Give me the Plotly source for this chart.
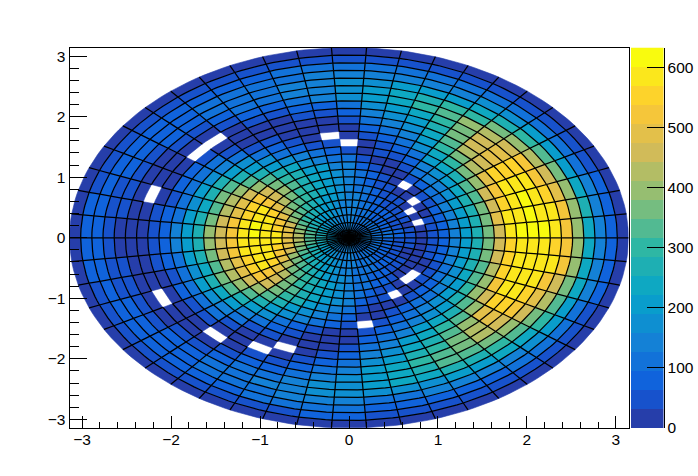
import math
import plotly.graph_objects as go

# Estimated bin contents: one list per azimuth bin (7.2 degrees wide), 25 radial bins from the centre out
phi00 = [150,130,115,95,65,35,25,40,80,150,215,270,350,470,570,630,640,620,570,520,400,250,150,70,25]
phi01 = [145,130,110,95,65,35,25,45,85,150,210,280,370,480,570,590,610,600,575,530,400,260,145,70,22]
phi02 = [145,128,110,90,60,30,0,42,80,145,205,275,365,470,555,580,605,590,560,500,380,250,130,65,22]
phi03 = [140,125,105,85,58,32,18,30,70,140,195,265,345,445,525,575,590,575,535,460,350,215,120,60,22]
phi04 = [138,122,102,85,60,35,0,25,60,120,180,245,320,405,490,540,555,550,520,440,320,200,115,55,20]
phi05 = [135,120,105,85,65,42,22,0,45,100,155,210,275,355,425,470,500,490,470,385,290,205,115,50,20]
phi06 = [132,120,105,90,70,50,32,16,30,75,130,180,235,300,365,415,445,450,425,350,265,175,105,48,18]
phi07 = [130,120,108,92,78,60,42,25,0,50,105,150,195,250,295,335,360,370,385,315,240,160,100,45,18]
phi08 = [130,122,112,100,88,75,58,40,25,15,45,80,120,160,195,230,270,310,320,285,215,150,100,45,18]
phi09 = [130,125,118,110,100,90,78,60,42,25,22,45,75,105,140,175,210,250,285,265,210,145,100,45,18]
phi10 = [130,126,122,118,112,108,98,85,65,40,20,35,60,85,115,150,180,215,240,240,195,140,100,50,16]
phi11 = [128,128,128,128,128,128,125,118,105,78,45,20,30,55,85,115,150,185,210,205,180,135,95,55,16]
phi12 = [130,130,135,140,145,150,155,155,150,130,100,55,0,12,22,45,70,110,160,170,165,135,95,60,20]
phi13 = [132,135,142,150,158,165,170,172,165,150,115,70,35,0,15,30,55,90,135,155,155,130,95,60,20]
phi14 = [135,140,150,162,175,190,200,210,210,190,150,105,60,30,15,18,40,70,110,135,140,125,95,58,20]
phi15 = [138,145,158,175,195,210,230,240,240,220,185,135,85,45,20,12,25,50,85,115,125,120,90,55,18]
phi16 = [140,150,168,190,215,240,260,275,280,265,225,175,120,70,35,15,15,35,65,95,110,105,90,55,18]
phi17 = [145,155,178,205,235,265,295,315,325,310,270,220,165,110,60,30,15,20,45,75,95,95,85,52,18]
phi18 = [145,160,188,220,255,290,330,360,380,370,330,280,220,160,100,60,30,0,28,55,80,90,80,50,16]
phi19 = [150,165,198,235,280,320,375,420,450,470,410,345,280,215,150,95,50,0,18,40,65,80,75,48,16]
phi20 = [150,175,210,255,310,365,430,490,530,520,470,405,330,255,185,120,65,30,15,25,50,70,72,46,16]
phi21 = [155,185,225,280,340,410,490,545,570,560,500,435,365,270,195,125,70,30,15,20,40,65,72,48,16]
phi22 = [155,195,245,305,370,450,530,575,590,555,490,420,330,240,170,110,62,30,0,22,35,58,72,60,20]
phi23 = [160,210,265,335,410,490,565,590,615,575,520,450,370,265,190,125,75,35,22,22,32,55,72,65,25]
phi24 = [160,210,270,340,420,500,570,595,630,580,530,470,390,270,200,130,80,35,22,22,30,55,70,70,25]
phi25 = [160,210,270,340,420,500,570,590,600,580,530,470,390,270,200,130,80,35,22,22,30,55,70,70,25]
phi26 = [160,210,265,335,410,490,565,580,595,575,520,450,370,265,190,125,75,32,20,22,32,55,72,65,25]
phi27 = [155,195,245,305,370,450,530,575,590,555,490,420,330,240,170,110,62,28,16,22,35,58,72,62,22]
phi28 = [155,185,225,280,340,410,490,545,570,555,500,430,360,265,190,122,68,28,0,20,40,65,72,48,16]
phi29 = [150,175,210,255,310,365,430,490,525,520,465,400,325,250,180,118,62,30,15,25,50,70,72,46,16]
phi30 = [150,165,198,235,280,320,375,420,450,450,405,340,275,210,148,95,50,25,15,38,65,80,75,48,16]
phi31 = [145,160,188,220,255,290,330,360,375,365,325,275,215,155,100,60,30,0,28,55,80,90,90,50,16]
phi32 = [145,155,178,205,235,265,295,315,320,305,265,215,160,108,60,30,14,20,45,75,95,95,85,52,18]
phi33 = [140,150,168,190,215,240,260,275,280,260,220,170,118,70,35,15,0,32,65,95,112,108,90,55,18]
phi34 = [138,145,158,175,195,210,230,240,238,215,180,130,82,45,20,0,28,52,88,118,130,120,95,58,18]
phi35 = [135,140,150,160,175,188,198,208,205,185,148,100,58,28,14,28,50,80,115,140,145,130,100,62,20]
phi36 = [130,132,138,148,155,162,168,170,160,145,110,65,30,12,25,50,78,110,140,160,160,135,100,65,20]
phi37 = [130,130,135,138,142,148,150,148,135,115,75,35,15,30,55,70,100,130,160,170,165,135,100,65,20]
phi38 = [128,128,128,128,126,122,115,105,82,55,30,0,50,85,115,150,180,205,220,205,165,125,85,48,16]
phi39 = [130,128,125,120,115,108,95,80,58,30,20,50,85,120,150,185,215,245,250,225,175,125,85,45,16]
phi40 = [130,126,120,114,105,92,78,60,38,18,45,80,115,155,190,225,255,285,280,240,185,130,85,42,16]
phi41 = [130,124,115,108,95,80,65,40,0,30,70,110,150,195,235,275,310,325,320,255,195,135,85,42,18]
phi42 = [132,122,110,98,85,68,48,28,15,50,95,135,185,235,285,335,370,370,330,270,205,145,90,45,18]
phi43 = [135,122,108,92,75,55,30,0,28,72,120,165,220,280,345,410,440,415,360,295,225,155,95,45,18]
phi44 = [138,120,105,88,65,42,22,0,40,90,145,195,255,330,410,480,495,450,395,330,250,170,105,48,18]
phi45 = [140,120,102,85,58,32,20,22,50,108,165,220,290,380,460,550,540,510,450,375,285,190,110,52,20]
phi46 = [142,122,105,85,55,28,18,30,62,125,185,245,320,410,510,590,570,545,500,420,320,205,120,60,20]
phi47 = [145,125,108,88,58,30,18,35,72,140,200,260,340,440,540,575,595,575,530,460,350,225,130,65,22]
phi48 = [148,128,110,90,60,32,22,40,78,148,210,270,350,455,560,570,585,595,590,530,410,245,145,68,22]
phi49 = [150,130,112,92,62,35,22,38,78,150,215,275,350,465,565,580,595,580,565,510,400,250,150,72,25]

values = [phi00,phi01,phi02,phi03,phi04,phi05,phi06,phi07,phi08,phi09,
          phi10,phi11,phi12,phi13,phi14,phi15,phi16,phi17,phi18,phi19,
          phi20,phi21,phi22,phi23,phi24,phi25,phi26,phi27,phi28,phi29,
          phi30,phi31,phi32,phi33,phi34,phi35,phi36,phi37,phi38,phi39,
          phi40,phi41,phi42,phi43,phi44,phi45,phi46,phi47,phi48,phi49]

z_top = 633.0
n_levels = 20
x_ticks = [-3, -2, -1, 0, 1, 2, 3]
y_ticks = [-3, -2, -1, 0, 1, 2, 3]
z_ticks = [0, 100, 200, 300, 400, 500, 600]

bird_stops = [0.0, .125, .25, .375, .5, .625, .75, .875, 1.0]
bird_r = [.2082, .0592, .0780, .0232, .1802, .5301, .8186, .9956, .9764]
bird_g = [.1664, .3599, .5041, .6419, .7178, .7492, .7328, .7862, .9832]
bird_b = [.5293, .8684, .8385, .7914, .6425, .4662, .3499, .1968, .0539]

W, H = 698, 476
L, R, T, B = 69.5, 628.5, 47.5, 428.0
CL, CR = 631.0, 663.5


def bird(t):
    for i in range(8):
        if t <= bird_stops[i + 1]:
            f = (t - bird_stops[i]) / .125
            c = [round(255 * (a[i] + f * (a[i + 1] - a[i]))) for a in (bird_r, bird_g, bird_b)]
            return f"rgb({c[0]},{c[1]},{c[2]})"
    return "rgb(249,251,14)"


level_colors = [bird((i + 1) / n_levels) for i in range(n_levels)]
n_phi, n_r = len(values), len(values[0])
assert all(len(v) == n_r for v in values)
dr = math.pi / n_r
dphi = 2 * math.pi / n_phi
SEG = 5


def polar(r, a):
    return r * math.cos(a), r * math.sin(a)


def arc(r, k, rev=False):
    idx = range(SEG + 1)
    pts = [polar(r, (k + i / SEG) * dphi) for i in idx]
    return pts[::-1] if rev else pts


fig = go.Figure()
xs_lv = [[] for _ in range(n_levels)]
ys_lv = [[] for _ in range(n_levels)]
for k in range(n_phi):
    for j in range(n_r):
        z = values[k][j]
        if z <= 0:
            continue
        lv = min(int(z / z_top * n_levels), n_levels - 1)
        pts = arc(j * dr, k) + arc((j + 1) * dr, k, rev=True)
        pts.append(pts[0])
        xs_lv[lv] += [p[0] for p in pts] + [None]
        ys_lv[lv] += [p[1] for p in pts] + [None]

for lv in range(n_levels):
    if xs_lv[lv]:
        fig.add_trace(go.Scatter(x=xs_lv[lv], y=ys_lv[lv], mode="lines", fill="toself",
                                 fillcolor=level_colors[lv],
                                 line=dict(color=level_colors[lv], width=0.6),
                                 hoverinfo="skip", showlegend=False))

gx, gy = [], []
for k in range(n_phi):
    for j in range(n_r):
        if values[k][j] <= 0:
            continue
        # arc towards the next ring
        if j + 1 < n_r and values[k][j + 1] > 0:
            pts = arc((j + 1) * dr, k)
            gx += [p[0] for p in pts] + [None]
            gy += [p[1] for p in pts] + [None]
        # spoke towards the next azimuth bin
        if values[(k + 1) % n_phi][j] > 0:
            a = polar(j * dr, (k + 1) * dphi)
            b = polar((j + 1) * dr, (k + 1) * dphi)
            gx += [a[0], b[0], None]
            gy += [a[1], b[1], None]
fig.add_trace(go.Scatter(x=gx, y=gy, mode="lines", line=dict(color="black", width=1.25),
                         hoverinfo="skip", showlegend=False))

edges = [z_top * i / n_levels for i in range(n_levels + 1)]
scale = []
for i in range(n_levels):
    scale += [[i / n_levels, level_colors[i]], [(i + 1) / n_levels, level_colors[i]]]
fig.add_trace(go.Heatmap(x=[0, 1], y=edges, z=[[(edges[i] + edges[i + 1]) / 2] for i in range(n_levels)],
                         zmin=0, zmax=z_top, colorscale=scale, showscale=False, hoverinfo="skip",
                         xaxis="x2", yaxis="y2"))

font = dict(family="Liberation Sans, Arial, sans-serif", size=15.5, color="black")
fig.update_layout(
    width=W, height=H, autosize=False, margin=dict(l=0, r=0, t=0, b=0),
    paper_bgcolor="white", plot_bgcolor="white", font=font, showlegend=False,
    xaxis=dict(domain=[L / W, R / W], range=[-3.1416, 3.1416], tickvals=x_ticks, ticks="inside",
               ticklen=12, tickcolor="black", tickwidth=1, showgrid=False, zeroline=False,
               showline=True, linecolor="black", linewidth=1, mirror=True, tickfont=font,
               ticklabelstandoff=-3, automargin=False,
               minor=dict(dtick=0.2, ticks="inside", ticklen=6, tickcolor="black", tickwidth=1, showgrid=False),
               anchor="y"),
    yaxis=dict(domain=[1 - B / H, 1 - T / H], range=[-3.1416, 3.1416], tickvals=y_ticks, ticks="inside",
               ticklen=17, tickcolor="black", tickwidth=1, showgrid=False, zeroline=False,
               showline=True, linecolor="black", linewidth=1, mirror=True, tickfont=font,
               automargin=False,
               minor=dict(dtick=0.2, ticks="inside", ticklen=9, tickcolor="black", tickwidth=1, showgrid=False),
               anchor="x"),
    xaxis2=dict(domain=[CL / W, CR / W], range=[0, 1], visible=False, anchor="y2", automargin=False),
    yaxis2=dict(domain=[1 - B / H, 1 - T / H], range=[0, z_top], side="right", tickvals=z_ticks,
                ticks="inside", ticklen=17, tickcolor="black", tickwidth=1, showgrid=False,
                zeroline=False, showline=True, linecolor="black", linewidth=1, tickfont=font,
                automargin=False, anchor="x2"),
)
fig.write_html("out.html", config=dict(displayModeBar=False),
               post_script="document.body.style.margin='0';document.documentElement.style.overflow='hidden';")
